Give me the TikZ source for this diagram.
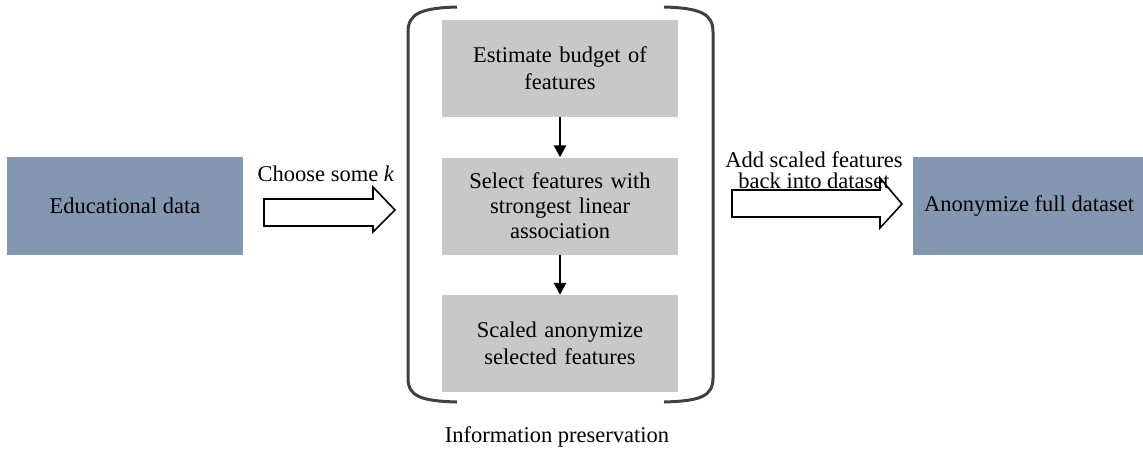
\documentclass[tikz,border=0pt]{standalone}
\usepackage{fontspec}
\setmainfont{Liberation Serif}
\usetikzlibrary{arrows.meta}
\definecolor{bluebox}{RGB}{132,151,176}
\definecolor{graybox}{RGB}{200,200,200}
\definecolor{bracketcol}{RGB}{64,64,64}
\begin{document}
\begin{tikzpicture}[x=1pt,y=-1pt,
  txt/.style={font=\fontsize{22.5}{25}\selectfont},
  bluenode/.style={txt,fill=bluebox,minimum width=236pt,minimum height=98pt,inner sep=0pt,align=center},
  graynode/.style={txt,fill=graybox,minimum width=236pt,minimum height=97pt,inner sep=0pt,align=center,text width=230pt},
  thinarrow/.style={draw=black,line width=2.5pt,-{Triangle[length=12pt,width=12pt]}},
  blockarrow/.style={draw=black,line width=1.6pt,fill=white,line join=miter},
  bracketline/.style={draw=bracketcol,line width=3pt}]
\useasboundingbox (0,0) rectangle (1143,451);
\node[bluenode] (edu) at (125,206) {Educational data};
\node[bluenode,minimum width=232pt] (anon) at (1029,206) {Anonymize full dataset};
\node[graynode,font=\fontsize{22.5}{27}\selectfont] (est) at (560,68.5) {Estimate budget of\\features};
\node[graynode] (sel) at (560,206) {Select features with\\strongest linear\\association};
\node[graynode,font=\fontsize{22.5}{27}\selectfont] (sca) at (560,343.5) {Scaled anonymize\\selected features};
\draw[thinarrow] (est.south) -- (sel.north);
\draw[thinarrow] (sel.south) -- (sca.north);
% bracket
\draw[bracketline] (457,7) .. controls (420,8) and (408,14) .. (408,32) -- (408,378) .. controls (408,396) and (420,401) .. (457,402);
\draw[bracketline] (664,7) .. controls (701,8) and (713,14) .. (713,32) -- (713,378) .. controls (713,396) and (701,401) .. (664,402);
\node[txt] (info) at (557,437) {Information preservation};
% block arrows
\draw[blockarrow] (264,199) -- (373,199) -- (373,187) -- (395,210) -- (373,232) -- (373,226) -- (264,226) -- cycle;
\node[txt] (choose) at (326,174) {Choose some \textit{k}};
\draw[blockarrow] (732,190) -- (880,190) -- (880,178) -- (902,204) -- (880,228) -- (880,217) -- (732,217) -- cycle;
\node[txt,align=center,font=\fontsize{22.5}{21}\selectfont] (addtxt) at (814,170) {Add scaled features\\back into dataset};
\end{tikzpicture}
\end{document}
